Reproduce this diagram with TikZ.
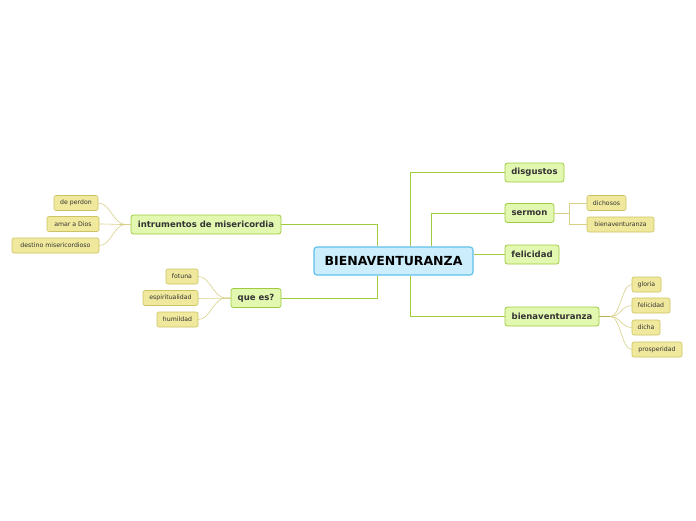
\documentclass[tikz,border=0pt]{standalone}
\usepackage{fontspec}
\setmainfont{DejaVu Sans}
\usetikzlibrary{positioning}
\definecolor{rootfill}{RGB}{204,238,252}
\definecolor{rootline}{RGB}{96,192,234}
\definecolor{topicfill}{RGB}{226,247,176}
\definecolor{topicline}{RGB}{158,204,62}
\definecolor{leaffill}{RGB}{240,232,156}
\definecolor{leafline}{RGB}{204,196,100}
\definecolor{leafedge}{RGB}{216,208,136}
\definecolor{stubedge}{RGB}{184,176,80}
\definecolor{gray30}{RGB}{51,51,51}

\tikzset{
  root/.style={draw=rootline, fill=rootfill, line width=1.2pt, rounded corners=3pt,
    font=\fontsize{12.5}{14}\selectfont\bfseries, inner sep=0pt,
    minimum width=159pt, minimum height=28pt},
  topic/.style={draw=topicline, fill=topicfill, line width=0.8pt, rounded corners=2.5pt,
    font=\fontsize{8.5}{10}\selectfont\bfseries, text=gray30, inner sep=0pt,
    minimum height=19pt},
  leaf/.style={draw=leafline, fill=leaffill, line width=0.6pt, rounded corners=2pt,
    font=\fontsize{6.2}{7}\selectfont, text=gray30, inner sep=0pt,
    minimum height=15pt},
  branch/.style={draw=topicline, line width=0.9pt},
  twig/.style={draw=leafedge, line width=0.6pt},
}

\begin{document}
\begin{tikzpicture}[x=1pt, y=-1pt]
    \useasboundingbox (0,0) rectangle (696,520);

    % central topic
    \node[root] (root) at (393.5,261) {BIENAVENTURANZA};

    % main branches
    \node[topic, minimum width=150pt] (instr) at (206,224.5) {intrumentos de misericordia};
    \node[topic, minimum width=50pt] (quees) at (256,298) {que es?};
    \node[topic, minimum width=59pt] (disg) at (534.5,172.5) {disgustos};
    \node[topic, minimum width=49pt] (serm) at (529.5,213) {sermon};
    \node[topic, minimum width=54pt] (feli) at (532,254.5) {felicidad};
    \node[topic, minimum width=94pt] (bien) at (552,316.5) {bienaventuranza};

    \draw[branch] (instr.east) -| ([xshift=-16.5pt]root.north);
    \draw[branch] (quees.east) -| ([xshift=-16.5pt]root.south);
    \draw[branch] ([xshift=16.5pt]root.north) |- (disg.west);
    \draw[branch] ([xshift=37.5pt]root.north) |- (serm.west);
    \draw[branch] (feli.west -| root.east) -- (feli.west);
    \draw[branch] ([xshift=16.5pt]root.south) |- (bien.west);

    % leaves of intrumentos
    \foreach \name/\txt/\x/\y/\w in {ip/de perdon/76/203/44,
        ia/amar a Dios/73/224/52,
        id/destino misericordioso/55.5/245.5/87} {
      \node[leaf, minimum width=\w pt] (\name) at (\x,\y) {\txt};
      \draw[twig] (instr.west) -- ++(-5,0)
        .. controls +(-12,0) and +(12,0) .. (\name.east);
    }

    % leaves of que es?
    \foreach \name/\txt/\x/\y/\w in {qf/fotuna/182/276.5/32,
        qe/espiritualidad/170.5/298/55,
        qh/humildad/177.5/319.5/41} {
      \node[leaf, minimum width=\w pt] (\name) at (\x,\y) {\txt};
      \draw[twig] (quees.west) -- ++(-5,0)
        .. controls +(-12,0) and +(12,0) .. (\name.east);
    }

    % leaves of sermon
    \node[leaf, minimum width=39pt] (sd) at (606.5,203) {dichosos};
    \node[leaf, minimum width=67pt] (sb) at (620.5,224.5) {bienaventuranza};
    \draw[twig] (serm.east) -- ++(15,0) coordinate (sj);
    \draw[twig] (sj) |- (sd.west);
    \draw[twig] (sj) |- (sb.west);

    % leaves of bienaventuranza
    \draw[stubedge, line width=1pt] (bien.east) -- ++(11,0) coordinate (bj);
    \foreach \name/\txt/\x/\y/\w in {bg/gloria/646.5/284.5/29,
        bf/felicidad/651/305.5/38,
        bd/dicha/646/327.5/28,
        bp/prosperidad/657/349.5/50} {
      \node[leaf, minimum width=\w pt] (\name) at (\x,\y) {\txt};
      \draw[twig] (bj) .. controls +(10,0) and +(-10,0) .. (\name.west);
    }
\end{tikzpicture}
\end{document}
